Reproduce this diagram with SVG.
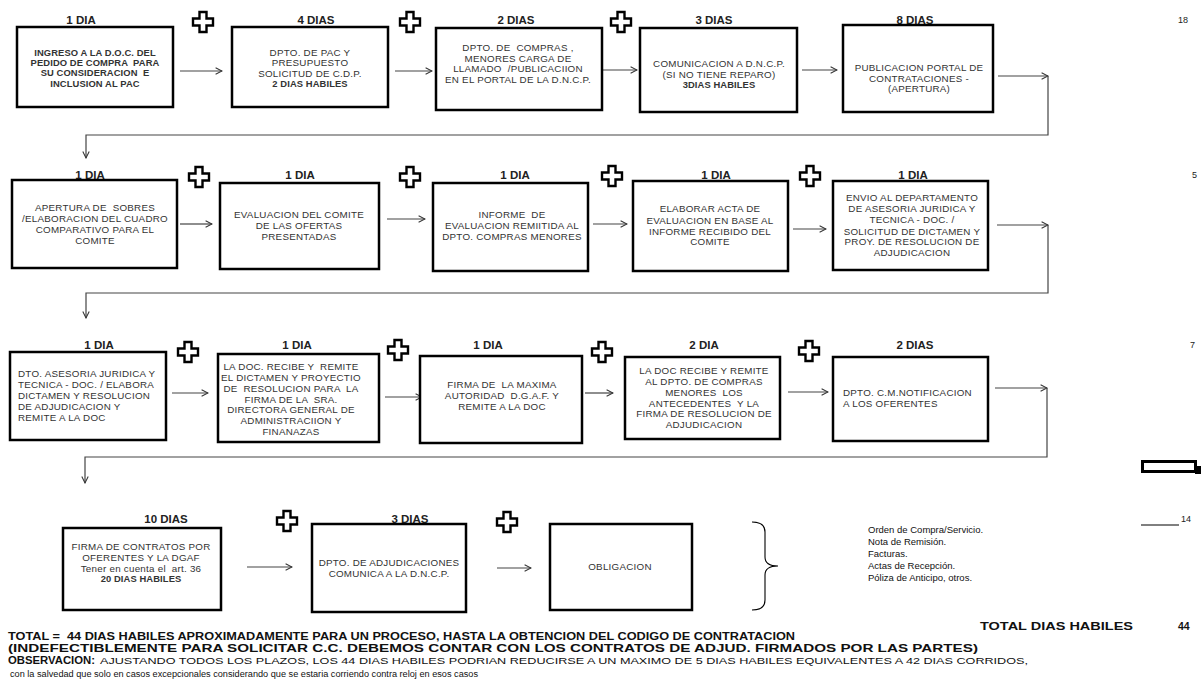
<svg xmlns="http://www.w3.org/2000/svg" width="1201" height="683" viewBox="0 0 1201 683">
<defs>
<style>
text{white-space:pre}
.box{fill:#fff;stroke:#000;stroke-width:2.5}
.t{font-family:"Liberation Sans",Arial,sans-serif;font-size:9.8px;letter-spacing:0.25px;fill:#333;text-anchor:middle}
.l{text-anchor:start}
.b{font-weight:bold;font-size:9.4px;letter-spacing:0.1px}
.lbl{font-family:"Liberation Sans",Arial,sans-serif;font-size:11.5px;font-weight:bold;fill:#222;text-anchor:middle}
.num{font-family:"Liberation Sans",Arial,sans-serif;font-size:9px;fill:#222}
.conn{stroke:#444;stroke-width:1.2;fill:none}
.plus{fill:#fff;stroke:#000;stroke-width:2.4}
.list{font-family:"Liberation Sans",Arial,sans-serif;font-size:9.5px;fill:#111}
.foot{font-family:"Liberation Sans",Arial,sans-serif;fill:#111}
</style>
<marker id="ah" viewBox="0 0 10 10" refX="9" refY="5" markerWidth="8" markerHeight="8" markerUnits="userSpaceOnUse" orient="auto">
<path d="M1,1 L9,5 L1,9" fill="none" stroke="#333" stroke-width="1.3"/>
</marker>
<path id="plus" d="M-3.5,-10 H3.5 V-3.5 H10 V3.5 H3.5 V10 H-3.5 V3.5 H-10 V-3.5 H-3.5 Z"/>
</defs>
<rect width="1201" height="683" fill="#fff"/>

<g id="connectors">
<line class="conn" x1="180" y1="71" x2="222" y2="71" marker-end="url(#ah)"/>
<line class="conn" x1="395" y1="71" x2="432" y2="71" marker-end="url(#ah)"/>
<line class="conn" x1="603" y1="70" x2="637" y2="70" marker-end="url(#ah)"/>
<line class="conn" x1="802" y1="70" x2="837" y2="70" marker-end="url(#ah)"/>
<line class="conn" x1="998" y1="76" x2="1048" y2="76" marker-end="url(#ah)"/>
<polyline class="conn" points="1048,76 1048,135 86,135 86,158" marker-end="url(#ah)"/>

<line class="conn" x1="180" y1="224" x2="212" y2="224" marker-end="url(#ah)"/>
<line class="conn" x1="387" y1="219" x2="425" y2="219" marker-end="url(#ah)"/>
<line class="conn" x1="593" y1="224" x2="627" y2="224" marker-end="url(#ah)"/>
<line class="conn" x1="793" y1="229" x2="826" y2="229" marker-end="url(#ah)"/>
<line class="conn" x1="997" y1="225" x2="1048" y2="225" marker-end="url(#ah)"/>
<polyline class="conn" points="1048,225 1048,293 86,293 86,318" marker-end="url(#ah)"/>

<line class="conn" x1="172" y1="393" x2="208" y2="393" marker-end="url(#ah)"/>
<line class="conn" x1="385" y1="397" x2="422" y2="397" marker-end="url(#ah)"/>
<line class="conn" x1="585" y1="393" x2="613" y2="393" marker-end="url(#ah)"/>
<line class="conn" x1="788" y1="392" x2="828" y2="392" marker-end="url(#ah)"/>
<line class="conn" x1="995" y1="388" x2="1047" y2="388" marker-end="url(#ah)"/>
<polyline class="conn" points="1047,388 1047,457 85,457 85,483" marker-end="url(#ah)"/>

<line class="conn" x1="247" y1="567" x2="292" y2="567" marker-end="url(#ah)"/>
<line class="conn" x1="497" y1="568" x2="531" y2="568" marker-end="url(#ah)"/>
</g>

<g id="operators">
<use href="#plus" class="plus" x="203" y="22"/>
<use href="#plus" class="plus" x="410" y="22"/>
<use href="#plus" class="plus" x="621" y="22"/>
<use href="#plus" class="plus" x="199" y="177"/>
<use href="#plus" class="plus" x="410" y="177"/>
<use href="#plus" class="plus" x="612" y="176"/>
<use href="#plus" class="plus" x="810" y="176"/>
<use href="#plus" class="plus" x="188" y="352"/>
<use href="#plus" class="plus" x="398" y="350"/>
<use href="#plus" class="plus" x="602" y="352"/>
<use href="#plus" class="plus" x="809" y="351"/>
<use href="#plus" class="plus" x="287" y="521"/>
<use href="#plus" class="plus" x="507" y="522"/>
</g>

<!-- Row 1 -->
<g id="n1">
<text class="lbl" x="81" y="24">1 DIA</text>
<rect class="box" x="17" y="27" width="156" height="80"/>
<text class="t b" x="95" y="55.5">INGRESO A LA D.O.C. DEL</text>
<text class="t b" x="95" y="66">PEDIDO DE COMPRA  PARA</text>
<text class="t b" x="95" y="76">SU CONSIDERACION  E</text>
<text class="t b" x="95" y="87">INCLUSION AL PAC</text>
</g>
<g id="n2">
<text class="lbl" x="316" y="24">4 DIAS</text>
<rect class="box" x="232" y="27" width="156" height="80"/>
<text class="t" x="310" y="56">DPTO. DE PAC Y</text>
<text class="t" x="310" y="66">PRESUPUESTO</text>
<text class="t" x="310" y="76.5">SOLICITUD DE C.D.P.</text>
<text class="t b" x="310" y="87">2 DIAS HABILES</text>
</g>
<g id="n3">
<text class="lbl" x="516" y="24">2 DIAS</text>
<rect class="box" x="436" y="28" width="166" height="82"/>
<text class="t" x="518" y="51">DPTO. DE  COMPRAS ,</text>
<text class="t" x="518" y="61.5">MENORES CARGA DE</text>
<text class="t" x="518" y="72">LLAMADO  /PUBLICACIION</text>
<text class="t" x="518" y="83">EN EL PORTAL DE LA D.N.C.P.</text>
</g>
<g id="n4">
<text class="lbl" x="714" y="24">3 DIAS</text>
<rect class="box" x="640" y="28" width="157" height="84"/>
<text class="t" x="719" y="67">COMUNICACION A D.N.C.P.</text>
<text class="t" x="719" y="78">(SI NO TIENE REPARO)</text>
<text class="t b" x="719" y="88">3DIAS HABILES</text>
</g>
<g id="n5">
<text class="lbl" x="915" y="24">8 DIAS</text>
<rect class="box" x="843" y="25" width="150" height="87"/>
<text class="t" x="919" y="71">PUBLICACION PORTAL DE</text>
<text class="t" x="919" y="82">CONTRATACIONES -</text>
<text class="t" x="919" y="92">(APERTURA)</text>
</g>
<text class="num" x="1178" y="23">18</text>

<!-- Row 2 -->
<g id="n6">
<text class="lbl" x="90" y="179">1 DIA</text>
<rect class="box" x="12" y="180" width="165" height="88"/>
<text class="t" x="95" y="211">APERTURA DE  SOBRES</text>
<text class="t" x="95" y="222">/ELABORACION DEL CUADRO</text>
<text class="t" x="95" y="233">COMPARATIVO PARA EL</text>
<text class="t" x="95" y="244">COMITE</text>
</g>
<g id="n7">
<text class="lbl" x="300" y="179">1 DIA</text>
<rect class="box" x="220" y="183" width="159" height="86"/>
<text class="t" x="299" y="218">EVALUACION DEL COMITE</text>
<text class="t" x="299" y="229">DE LAS OFERTAS</text>
<text class="t" x="299" y="240">PRESENTADAS</text>
</g>
<g id="n8">
<text class="lbl" x="515" y="179">1 DIA</text>
<rect class="box" x="433" y="183" width="155" height="88"/>
<text class="t" x="512" y="218">INFORME  DE</text>
<text class="t" x="512" y="229">EVALUACION REMIITIDA AL</text>
<text class="t" x="512" y="240">DPTO. COMPRAS MENORES</text>
</g>
<g id="n9">
<text class="lbl" x="716" y="179">1 DIA</text>
<rect class="box" x="633" y="181" width="155" height="90"/>
<text class="t" x="710" y="212">ELABORAR ACTA DE</text>
<text class="t" x="710" y="223.5">EVALUACION EN BASE AL</text>
<text class="t" x="710" y="234.5">INFORME RECIBIDO DEL</text>
<text class="t" x="710" y="245">COMITE</text>
</g>
<g id="n10">
<text class="lbl" x="913" y="179">1 DIA</text>
<rect class="box" x="833" y="181" width="155" height="89"/>
<text class="t" x="912" y="201">ENVIO AL DEPARTAMENTO</text>
<text class="t" x="912" y="212">DE ASESORIA JURIDICA Y</text>
<text class="t" x="912" y="223">TECNICA - DOC. /</text>
<text class="t" x="912" y="234.5">SOLICITUD DE DICTAMEN Y</text>
<text class="t" x="912" y="245">PROY. DE RESOLUCION DE</text>
<text class="t" x="912" y="256">ADJUDICACION</text>
</g>
<text class="num" x="1192" y="178">5</text>

<!-- Row 3 -->
<g id="n11">
<text class="lbl" x="99" y="349">1 DIA</text>
<rect class="box" x="10" y="352" width="156" height="88"/>
<text class="t l" x="18" y="377">DTO. ASESORIA JURIDICA Y</text>
<text class="t l" x="18" y="388">TECNICA - DOC. / ELABORA</text>
<text class="t l" x="18" y="399">DICTAMEN Y RESOLUCION</text>
<text class="t l" x="18" y="410">DE ADJUDICACION Y</text>
<text class="t l" x="18" y="421">REMITE A LA DOC</text>
</g>
<g id="n12">
<text class="lbl" x="297" y="349">1 DIA</text>
<rect class="box" x="218" y="354" width="161" height="88"/>
<text class="t" x="291" y="370">LA DOC. RECIBE Y  REMITE</text>
<text class="t" x="291" y="381">EL DICTAMEN Y PROYECTIO</text>
<text class="t" x="291" y="391.5">DE  RESOLUCION PARA  LA</text>
<text class="t" x="291" y="402.5">FIRMA DE LA  SRA.</text>
<text class="t" x="291" y="413">DIRECTORA GENERAL DE</text>
<text class="t" x="291" y="424">ADMINISTRACIION Y</text>
<text class="t" x="291" y="435">FINANAZAS</text>
</g>
<g id="n13">
<text class="lbl" x="488" y="349">1 DIA</text>
<rect class="box" x="420" y="356" width="162" height="87"/>
<text class="t" x="502" y="388">FIRMA DE  LA MAXIMA</text>
<text class="t" x="502" y="399">AUTORIDAD  D.G.A.F. Y</text>
<text class="t" x="502" y="410">REMITE A LA DOC</text>
</g>
<g id="n14">
<text class="lbl" x="704" y="349">2 DIA</text>
<rect class="box" x="625" y="357" width="155" height="82"/>
<text class="t" x="704" y="374">LA DOC RECIBE Y REMITE</text>
<text class="t" x="704" y="385">AL DPTO. DE COMPRAS</text>
<text class="t" x="704" y="396">MENORES  LOS</text>
<text class="t" x="704" y="406.5">ANTECEDENTES  Y LA</text>
<text class="t" x="704" y="417">FIRMA DE RESOLUCION DE</text>
<text class="t" x="704" y="428">ADJUDICACION</text>
</g>
<g id="n15">
<text class="lbl" x="915" y="349">2 DIAS</text>
<rect class="box" x="833" y="357" width="155" height="84"/>
<text class="t l" x="843" y="396">DPTO. C.M.NOTIFICACION</text>
<text class="t l" x="843" y="407">A LOS OFERENTES</text>
</g>
<text class="num" x="1190" y="348">7</text>
<g id="mark">
<rect x="1142.5" y="461.5" width="53" height="10" fill="#fff" stroke="#000" stroke-width="3"/>
<rect x="1195" y="466" width="6" height="8" fill="#000"/>
</g>

<!-- Row 4 -->
<g id="n16">
<text class="lbl" x="166" y="523">10 DIAS</text>
<rect class="box" x="63" y="528" width="158" height="82"/>
<text class="t" x="141" y="550">FIRMA DE CONTRATOS POR</text>
<text class="t" x="141" y="561">OFERENTES Y LA DGAF</text>
<text class="t" x="141" y="571.5">Tener en cuenta el  art. 36</text>
<text class="t b" x="141" y="582">20 DIAS HABILES</text>
</g>
<g id="n17">
<text class="lbl" x="410" y="523">3 DIAS</text>
<rect class="box" x="312" y="524" width="154" height="88"/>
<text class="t" x="389" y="566">DPTO. DE ADJUDICACIONES</text>
<text class="t" x="389" y="577">COMUNICA A LA D.N.C.P.</text>
</g>
<g id="n18">
<rect class="box" x="550" y="524" width="142" height="86"/>
<text class="t" x="620" y="570">OBLIGACION</text>
</g>
<g id="brace">
<path d="M752,522 Q765,522 765,532 L765,557 Q765,566 778,566 Q765,566 765,575 L765,600 Q765,610 752,610" fill="none" stroke="#000" stroke-width="1.1"/>
</g>
<g id="docs">
<text class="list" x="868" y="533">Orden de Compra/Servicio.</text>
<text class="list" x="868" y="545">Nota de Remisión.</text>
<text class="list" x="868" y="557">Facturas.</text>
<text class="list" x="868" y="569">Actas de Recepción.</text>
<text class="list" x="868" y="581">Póliza de Anticipo, otros.</text>
</g>
<line x1="1141" y1="525" x2="1179" y2="525" stroke="#000" stroke-width="1"/>
<text class="num" x="1181" y="522">14</text>

<!-- Footer -->
<g id="footer">
<text class="foot" x="980" y="630" font-size="10.5" font-weight="bold" textLength="153" lengthAdjust="spacingAndGlyphs">TOTAL DIAS HABILES</text>
<text class="foot" x="1178" y="630" font-size="10.5" font-weight="bold">44</text>
<text class="foot" x="8" y="640" font-size="10" font-weight="bold" textLength="787" lengthAdjust="spacingAndGlyphs">TOTAL =  44 DIAS HABILES APROXIMADAMENTE PARA UN PROCESO, HASTA LA OBTENCION DEL CODIGO DE CONTRATACION</text>
<text class="foot" x="8" y="652" font-size="10.5" font-weight="bold" textLength="970" lengthAdjust="spacingAndGlyphs">(INDEFECTIBLEMENTE PARA SOLICITAR C.C. DEBEMOS CONTAR CON LOS CONTRATOS DE ADJUD. FIRMADOS POR LAS PARTES)</text>
<text class="foot" x="8" y="664" font-size="10" font-weight="bold" textLength="87" lengthAdjust="spacingAndGlyphs">OBSERVACION:</text>
<text class="foot" x="100" y="664" font-size="9.5" textLength="928" lengthAdjust="spacingAndGlyphs">AJUSTANDO TODOS LOS PLAZOS, LOS 44 DIAS HABILES PODRIAN REDUCIRSE A UN MAXIMO DE 5 DIAS HABILES EQUIVALENTES A 42 DIAS CORRIDOS,</text>
<text class="foot" x="10" y="677" font-size="8.5" textLength="468" lengthAdjust="spacingAndGlyphs">con la salvedad que solo en casos excepcionales considerando que se estaria corriendo contra reloj en esos casos</text>
</g>
</svg>
